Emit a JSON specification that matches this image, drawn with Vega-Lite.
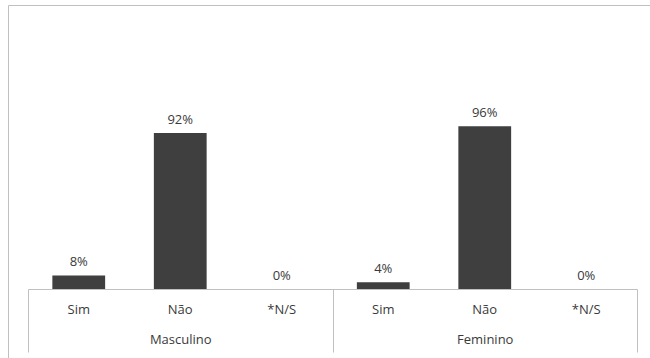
{
  "$schema": "https://vega.github.io/schema/vega-lite/v6.json",
  "autosize": "none",
  "width": 660,
  "height": 370,
  "padding": {"left": 8, "top": 5, "right": 0, "bottom": 0},
  "background": "white",
  "config": {
    "view": {"stroke": "#c0c0c0", "strokeWidth": 1},
    "font": "Open Sans"
  },
  "data": {
    "values": [
      {"grupo": "Masculino", "resposta": "Sim", "chave": "Masculino|Sim", "valor": 0.08},
      {"grupo": "Masculino", "resposta": "Não", "chave": "Masculino|Não", "valor": 0.92},
      {"grupo": "Masculino", "resposta": "*N/S", "chave": "Masculino|*N/S", "valor": 0.0},
      {"grupo": "Feminino", "resposta": "Sim", "chave": "Feminino|Sim", "valor": 0.04},
      {"grupo": "Feminino", "resposta": "Não", "chave": "Feminino|Não", "valor": 0.96},
      {"grupo": "Feminino", "resposta": "*N/S", "chave": "Feminino|*N/S", "valor": 0.0}
    ]
  },
  "layer": [
    {
      "layer": [
        {
          "mark": {"type": "bar", "width": {"band": 0.52}, "color": "#3f3f3f"},
          "encoding": {
            "x": {
              "field": "chave", "type": "nominal", "sort": null,
              "scale": {"range": [20, 629], "paddingInner": 0, "paddingOuter": 0},
              "axis": {
                "orient": "bottom", "offset": -86, "title": null,
                "labelExpr": "split(datum.value, '|')[1]",
                "labelAngle": 0, "labelFont": "Open Sans", "labelFontSize": 13,
                "labelColor": "#3a3a3a", "labelPadding": 14, "labelBaseline": "top",
                "ticks": false, "domain": true, "domainColor": "#c0c0c0", "domainWidth": 1,
                "grid": false
              }
            },
            "y": {
              "field": "valor", "type": "quantitative",
              "scale": {"domain": [0, 1.6745], "range": [284, 0], "nice": false},
              "axis": null
            }
          }
        },
        {
          "mark": {"type": "text", "baseline": "bottom", "dy": -6, "font": "Open Sans", "fontSize": 13, "color": "#3a3a3a"},
          "encoding": {
            "x": {"field": "chave", "type": "nominal", "sort": null},
            "y": {"field": "valor", "type": "quantitative"},
            "text": {"field": "valor", "type": "quantitative", "format": ".0%"}
          }
        }
      ]
    },
    {
      "mark": {"type": "point", "opacity": 0},
      "encoding": {
        "x": {
          "field": "grupo", "type": "nominal", "sort": ["Masculino", "Feminino"],
          "scale": {"range": [20, 629], "paddingInner": 0, "paddingOuter": 0},
          "axis": {
            "orient": "bottom", "offset": -86, "title": null,
            "labelAngle": 0, "labelFont": "Open Sans", "labelFontSize": 13,
            "labelColor": "#3a3a3a", "labelPadding": -19, "labelBaseline": "top",
            "ticks": true, "tickBand": "extent", "tickSize": 63, "tickColor": "#c0c0c0", "tickWidth": 1,
            "domain": false, "grid": false
          }
        }
      }
    }
  ],
  "resolve": {"scale": {"x": "independent"}, "axis": {"x": "independent"}}
}
